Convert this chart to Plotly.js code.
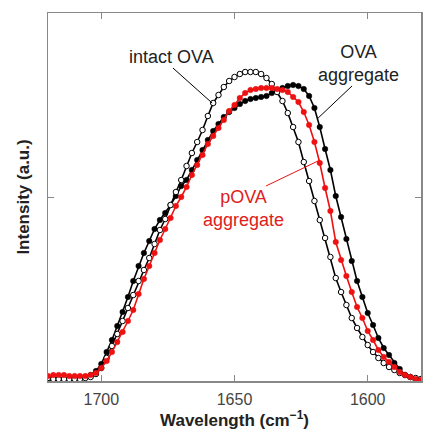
<!DOCTYPE html>
<html>
<head>
<meta charset="utf-8">
<script src="https://cdn.plot.ly/plotly-3.0.1.min.js"></script>
<style>html,body{margin:0;padding:0;background:#fff;}#chart{width:423px;height:436px;}</style>
</head>
<body>
<div id="chart"></div>
<script>
// Wavenumber grid (cm^-1), 2 cm^-1 steps
const wavenumber = [1720,1718,1716,1714,1712,1710,1708,1706,1704,1702,1700,1698,1696,1694,1692,1690,1688,1686,1684,1682,1680,1678,1676,1674,1672,1670,1668,1666,1664,1662,1660,1658,1656,1654,1652,1650,1648,1646,1644,1642,1640,1638,1636,1634,1632,1630,1628,1626,1624,1622,1620,1618,1616,1614,1612,1610,1608,1606,1604,1602,1600,1598,1596,1594,1592,1590,1588,1586,1584,1582,1580];

// Intensity (a.u.)
const intactOVA = [3,2,2,2,2,2,2,3,4,7,13,23,35,47,60,73,86,100,111,123,137,151,162,176,189,201,215,228,239,251,265,278,286,294,300,304,307,309,309,309,307,303,297,289,280,268,254,239,219,200,180,161,143,124,103,89,76,63,53,44,36,29,23,18,14,11,8,6,4,3,2];
const ovaAggregate = [1,1,1,2,2,2,3,4,6,10,17,29,41,55,69,84,100,115,128,140,152,161,168,176,185,195,201,211,221,231,241,250,257,264,269,273,277,280,282,283,284,285,288,291,293,295,296,295,292,285,273,254,232,211,185,164,142,120,100,84,68,56,43,33,26,18,12,6,4,1,0];
const pOVAaggregate = [5,6,6,6,5,5,5,5,6,8,13,20,29,39,49,60,71,87,102,115,128,141,152,163,175,184,194,206,216,226,237,245,253,261,270,276,283,288,291,292,293,293,293,292,291,289,284,279,269,256,239,218,193,170,139,121,105,89,74,63,50,41,31,24,19,14,9,6,4,2,1];

const xTicks = [1700, 1650, 1600];

const FONT = "Arial, 'Liberation Sans', sans-serif";

const traces = [
  {
    x: wavenumber, y: ovaAggregate, name: 'OVA aggregate', type: 'scatter', mode: 'lines+markers',
    line: {color: '#000000', width: 1.6},
    marker: {symbol: 'circle', size: 5.5, color: '#000000', line: {color: '#000000', width: 0.5}}
  },
  {
    x: wavenumber, y: intactOVA, name: 'intact OVA', type: 'scatter', mode: 'lines+markers',
    line: {color: '#000000', width: 1.6},
    marker: {symbol: 'circle', size: 5.5, color: '#ffffff', line: {color: '#000000', width: 1}}
  },
  {
    x: wavenumber, y: pOVAaggregate, name: 'pOVA aggregate', type: 'scatter', mode: 'lines+markers',
    line: {color: '#ee1111', width: 1.6},
    marker: {symbol: 'circle', size: 5.5, color: '#ee1111', line: {color: '#ee1111', width: 0.5}}
  }
];

const layout = {
  width: 423, height: 436,
  margin: {l: 48, r: 2, t: 13, b: 55, pad: 0},
  paper_bgcolor: '#ffffff', plot_bgcolor: '#ffffff',
  showlegend: false,
  font: {family: FONT, color: '#333333', size: 16},
  xaxis: {
    range: [1720, 1580],
    tickvals: xTicks, ticktext: xTicks.map(String),
    ticks: 'inside', ticklen: 6, tickwidth: 1, tickcolor: '#888888',
    showline: true, linecolor: '#888888', linewidth: 1.5, mirror: 'ticks',
    showgrid: false, zeroline: false,
    tickfont: {family: FONT, size: 16, color: '#444444'},
    ticklabelstandoff: 3,
    title: {text: 'Wavelength (cm<sup>−1</sup>)', font: {family: FONT, size: 17, color: '#222222', weight: 'bold'}, standoff: 7},
    automargin: false
  },
  yaxis: {
    range: [0, 368],
    tickvals: [184], showticklabels: false,
    ticks: 'inside', ticklen: 6, tickwidth: 1, tickcolor: '#888888',
    showline: true, linecolor: '#888888', linewidth: 1.5, mirror: 'ticks',
    showgrid: false, zeroline: false,
    title: {text: 'Intensity (a.u.)', font: {family: FONT, size: 17, color: '#222222', weight: 'bold'}, standoff: 12},
    automargin: false
  },
  shapes: [
    {type: 'line', xref: 'x', yref: 'y', x0: 1673.1, y0: 313, x1: 1658.4, y1: 278, line: {color: '#000000', width: 1}},
    {type: 'line', xref: 'x', yref: 'y', x0: 1605.9, y0: 295, x1: 1618.6, y1: 263, line: {color: '#000000', width: 1}},
    {type: 'line', xref: 'x', yref: 'y', x0: 1638.2, y0: 195, x1: 1617.9, y1: 221, line: {color: '#ee1111', width: 1}}
  ],
  annotations: [
    {xref: 'x', yref: 'y', x: 1673.5, y: 324, text: 'intact OVA', showarrow: false, xanchor: 'center', yanchor: 'middle',
     font: {family: FONT, size: 18, color: '#222222'}},
    {xref: 'x', yref: 'y', x: 1603.6, y: 318, text: 'OVA<br>aggregate', showarrow: false, xanchor: 'center', yanchor: 'middle',
     font: {family: FONT, size: 18, color: '#222222'}},
    {xref: 'x', yref: 'y', x: 1646.8, y: 173, text: 'pOVA<br>aggregate', showarrow: false, xanchor: 'center', yanchor: 'middle',
     font: {family: FONT, size: 18, color: '#e02020'}}
  ]
};

Plotly.newPlot('chart', traces, layout, {displayModeBar: false, staticPlot: true});
</script>
</body>
</html>
